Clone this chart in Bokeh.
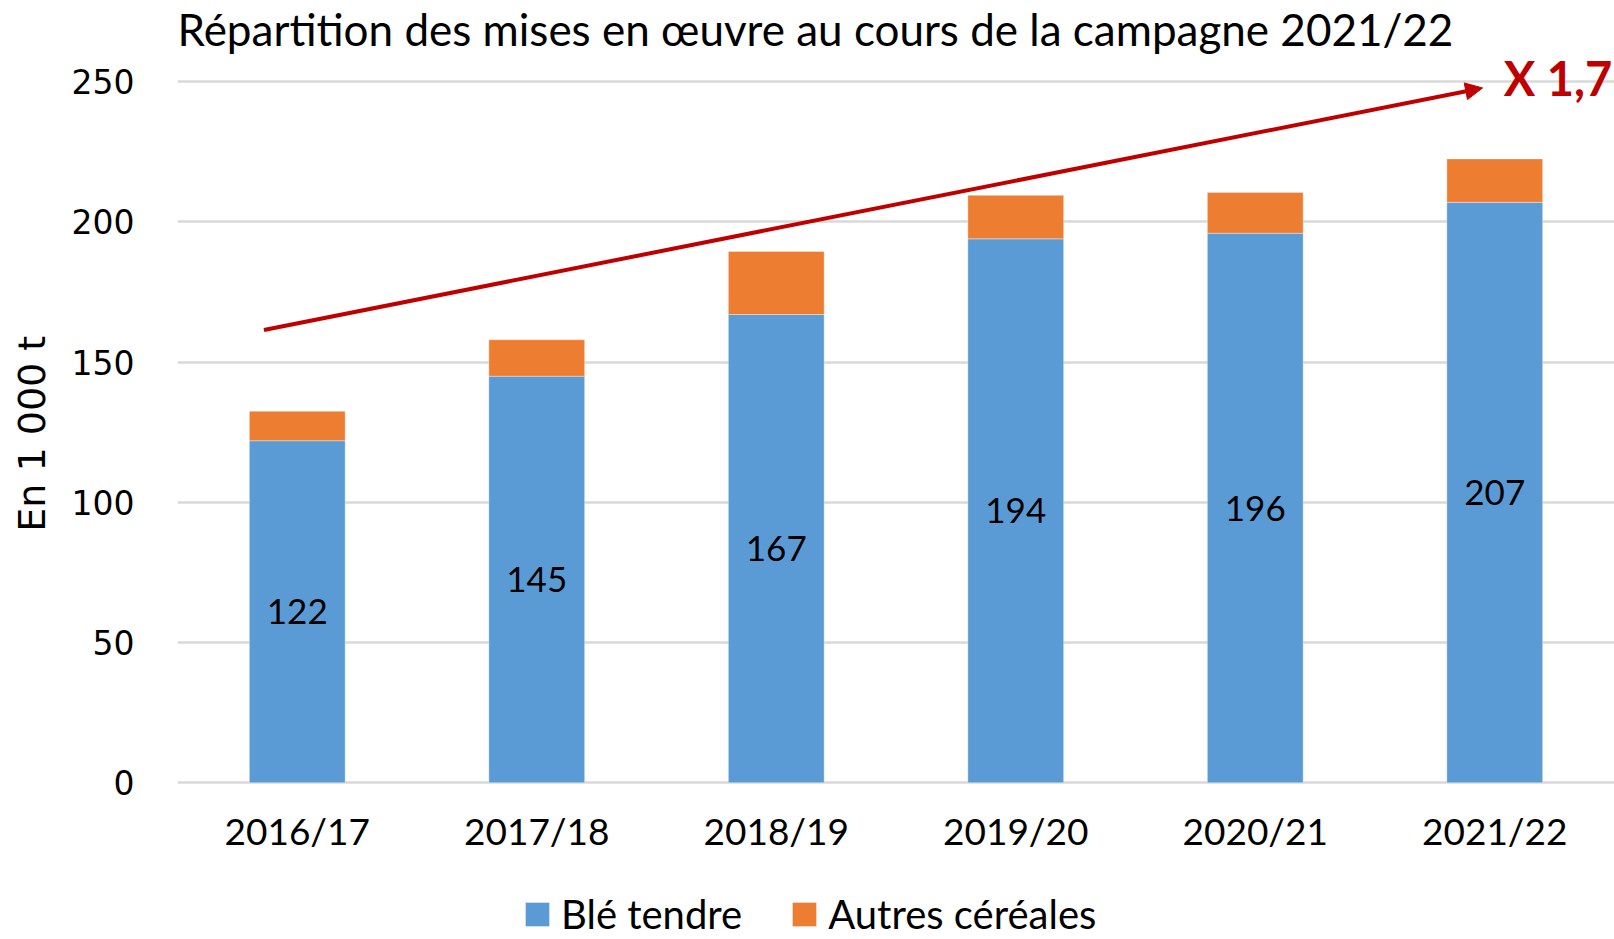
from bokeh.plotting import figure
from bokeh.models import (Range1d, FactorRange, Label, Arrow, NormalHead, Legend, LegendItem,
                          ColumnDataSource, LabelSet)
from bokeh.core.properties import value
from bokeh.embed import file_html
from bokeh.resources import INLINE

campagnes = ["2016/17", "2017/18", "2018/19", "2019/20", "2020/21", "2021/22"]
ble_tendre = [122, 145, 167, 194, 196, 207]
autres_cereales = [10.5, 13, 22.5, 15.5, 14.5, 15.5]
title_text = "Répartition des mises en œuvre au cours de la campagne 2021/22"
y_title = "En 1 000 t"
ratio_text = "X 1,7"

BLUE = "#5B9BD5"
ORANGE = "#ED7D31"
RED = "#C00000"
GRID = "#D9D9D9"
FONT = "Lato"

src = ColumnDataSource(dict(
    campagne=campagnes,
    ble=ble_tendre,
    autres=autres_cereales,
    mid=[v / 2 for v in ble_tendre],
    lab=[str(v) for v in ble_tendre],
))

p = figure(width=1614, height=939, x_range=FactorRange(*campagnes, range_padding=0),
           y_range=Range1d(-55.88, 278.99), output_backend="svg", toolbar_location=None,
           min_border_left=177, min_border_right=0, min_border_top=0, min_border_bottom=0)
p.outline_line_color = None

rs = p.vbar_stack(["ble", "autres"], x="campagne", width=0.4, source=src,
                  color=[BLUE, ORANGE], line_color="white", line_alpha=0.35, line_width=1)

labels = LabelSet(x="campagne", y="mid", text="lab", source=src, text_align="center",
                  text_baseline="middle", text_font=value(FONT), text_font_size="35px",
                  text_color="black")
p.add_layout(labels)

# axes
p.yaxis.ticker = [0, 50, 100, 150, 200, 250]
p.yaxis.major_label_text_font = "DejaVu Sans"
p.yaxis.major_label_text_font_size = "33px"
p.yaxis.major_label_text_color = "black"
p.yaxis.major_label_standoff = 43
p.yaxis.axis_line_color = None
p.yaxis.major_tick_line_color = None
p.yaxis.major_tick_out = 0
p.yaxis.major_tick_in = 0
p.yaxis.minor_tick_line_color = None
# leading no-break spaces lift the label so it is centred on the 0-250 area
p.yaxis.axis_label = "\u00a0" * 6 + y_title
p.yaxis.axis_label_text_font = "DejaVu Sans"
p.yaxis.axis_label_text_font_size = "38px"
p.yaxis.axis_label_text_font_style = "normal"
p.yaxis.axis_label_text_color = "black"
p.yaxis.axis_label_standoff = 15

p.xaxis.fixed_location = 0
p.xaxis.major_label_text_font = FONT
p.xaxis.major_label_text_font_size = "37px"
p.xaxis.major_label_text_color = "black"
p.xaxis.major_label_standoff = 25
p.xaxis.axis_line_color = None
p.xaxis.major_tick_line_color = None
p.xaxis.major_tick_out = 0
p.xaxis.major_tick_in = 0
p.xaxis.minor_tick_line_color = None

p.xgrid.grid_line_color = None
p.ygrid.grid_line_color = GRID
p.ygrid.grid_line_width = 2.5

# title
p.add_layout(Label(x=0.0, y=269, text=title_text, text_align="left", text_baseline="middle",
                   text_font=FONT, text_font_size="44px", text_color="black"))

# growth arrow
p.add_layout(Arrow(x_start=0.361, y_start=161.5, x_end=5.449, y_end=247.8,
                   line_color=RED, line_width=4,
                   end=NormalHead(size=17, fill_color=RED, line_color=RED, line_width=1)))
p.add_layout(Label(x=5.538, y=251.5, text=ratio_text, text_align="left", text_baseline="middle",
                   text_font=FONT, text_font_size="47px", text_font_style="bold", text_color=RED))

legend = Legend(items=[LegendItem(label="Blé tendre", renderers=[rs[0]]),
                       LegendItem(label="Autres céréales", renderers=[rs[1]])],
                location=(345, 1), orientation="horizontal")
legend.label_text_font = FONT
legend.label_text_font_size = "40px"
legend.label_text_color = "black"
legend.glyph_width = 30
legend.glyph_height = 30
legend.label_standoff = 9
legend.spacing = 47
legend.padding = 0
legend.margin = 0
legend.border_line_color = None
legend.background_fill_alpha = 0
p.add_layout(legend, "center")

open("out.html", "w").write(file_html(p, INLINE))
